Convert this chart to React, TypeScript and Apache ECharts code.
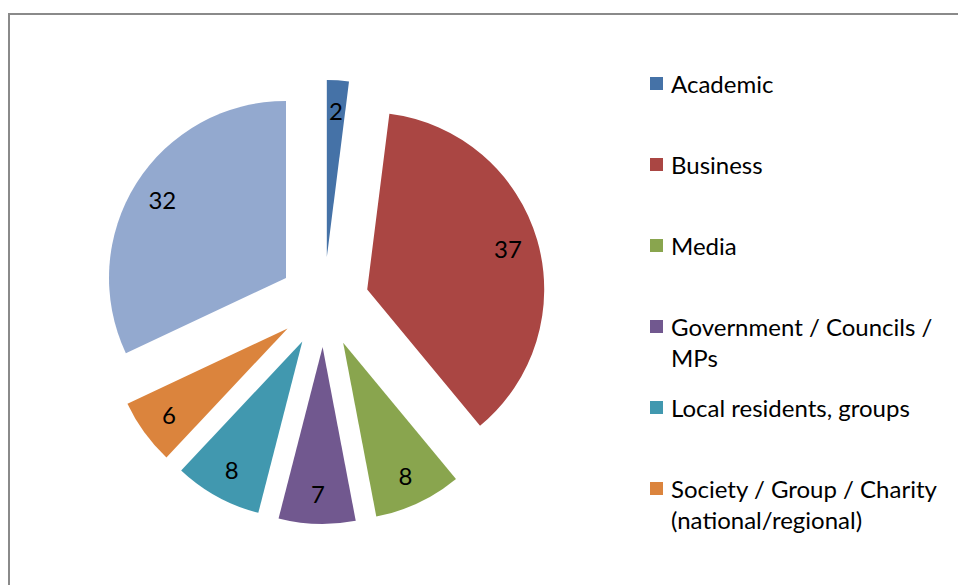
import React, { useEffect, useRef } from "react";
import * as echarts from "echarts";

const categories = [
  "Academic",
  "Business",
  "Media",
  "Government / Councils /\nMPs",
  "Local residents, groups",
  "Society / Group / Charity\n(national/regional)",
  "Other",
];
const values = [2, 37, 8, 7, 8, 6, 32];
const colors = ["#4572A7", "#AA4643", "#89A54E", "#71588F", "#4198AF", "#DB843D", "#93A9CF"];
const legendNames = categories.slice(0, 6);

export default function App() {
  const ref = useRef<HTMLDivElement>(null);
  useEffect(() => {
    if (!ref.current) return;
    const chart = echarts.init(ref.current, undefined, { renderer: "svg" });
    const font = "Lato, 'Open Sans', sans-serif";
    const mkData = (transparent: boolean) =>
      categories.map((name, i) => ({
        name,
        value: values[i],
        selected: true,
        itemStyle: { color: transparent ? "rgba(0,0,0,0)" : colors[i] },
      }));
    chart.setOption({
      animation: false,
      backgroundColor: "#ffffff",
      legend: {
        orient: "vertical",
        left: 650,
        top: 37,
        padding: 0,
        itemGap: -12,
        itemWidth: 13,
        itemHeight: 13,
        icon: "rect",
        selectedMode: false,
        data: legendNames,
        formatter: (name: string) => "\n" + name + (name.includes("\n") ? "" : "\n"),
        textStyle: {
          fontFamily: font,
          fontSize: 24,
          lineHeight: 31,
          color: "#000",
          padding: [0, 0, 0, 3],
        },
      },
      graphic: [
        {
          type: "rect",
          shape: { x: 9, y: 14, width: 1200, height: 1200 },
          style: { fill: "none", stroke: "#8a8a8a", lineWidth: 2 },
          silent: true,
        },
      ],
      series: [
        {
          type: "pie",
          center: [324, 302],
          radius: 177,
          startAngle: 90,
          clockwise: true,
          selectedMode: "multiple",
          selectedOffset: 45,
          label: { show: false },
          labelLine: { show: false },
          emphasis: { disabled: true },
          select: { itemStyle: { borderWidth: 0 } },
          data: mkData(false),
        },
        {
          type: "pie",
          center: [324, 302],
          radius: [110, 177],
          startAngle: 90,
          clockwise: true,
          selectedMode: "multiple",
          selectedOffset: 45,
          silent: true,
          emphasis: { disabled: true },
          select: { itemStyle: { borderWidth: 0 } },
          label: {
            show: true,
            position: "inside",
            formatter: "{c}",
            fontFamily: font,
            fontSize: 24,
            color: "#000",
            textBorderWidth: 0,
          },
          labelLine: { show: false },
          data: mkData(true),
        },
      ],
    });
    return () => chart.dispose();
  }, []);
  return (
    <div
      ref={ref}
      style={{ position: "fixed", left: 0, top: 0, width: 958, height: 585, overflow: "hidden" }}
    />
  );
}
